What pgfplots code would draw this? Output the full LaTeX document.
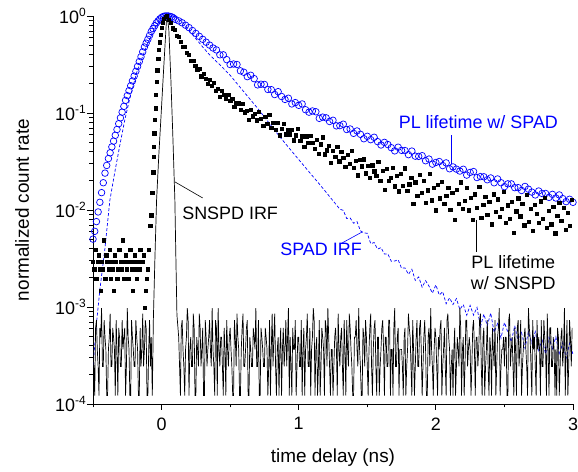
\documentclass[border=0pt]{standalone}
\usepackage{fontspec}
\setmainfont{Liberation Sans}
\usepackage{pgfplots}
\pgfplotsset{compat=1.18}
\newcommand{\tenexp}[1]{10\raisebox{0.42em}{\fontsize{12}{14}\selectfont #1}}
\begin{document}
\begin{tikzpicture}
\useasboundingbox (-93bp,-68bp) rectangle (485bp,404bp);
\begin{axis}[
  at={(0,0)}, anchor=south west,
  scale only axis, width=480bp, height=388bp,
  xmin=-0.5, xmax=3, ymode=log, ymin=1e-4, ymax=1,
  axis x line*=bottom, axis y line*=left,
  axis line style={line width=0.8bp},
  tick align=outside,
  major tick length=6bp, minor tick length=3.5bp,
  every tick/.style={line width=0.8bp, black},
  xtick={0,1,2,3}, minor xtick={-0.5,0.5,1.5,2.5},
  ytick={1e-4,1e-3,1e-2,1e-1,1},
  yticklabels={},
  minor ytick={2e-4,3e-4,4e-4,5e-4,6e-4,7e-4,8e-4,9e-4,2e-3,3e-3,4e-3,5e-3,6e-3,7e-3,8e-3,9e-3,2e-2,3e-2,4e-2,5e-2,6e-2,7e-2,8e-2,9e-2,0.2,0.3,0.4,0.5,0.6,0.7,0.8,0.9},
  ticklabel style={font=\fontsize{18}{20}\selectfont},
  xticklabel style={yshift=-4bp},
  /pgf/number format/assume math mode=true,
  clip=true,
]
% PL lifetime w/ SPAD (blue open circles)
\addplot[only marks, mark=o, mark size=3.3bp, color=blue, line width=0.7bp] coordinates {
(-0.5,0.00501)(-0.4875,0.00603)(-0.475,0.00759)(-0.4625,0.00955)(-0.45,0.0120)(-0.4375,0.0151)(-0.425,0.0191)(-0.4125,0.0240)(-0.4,0.0288)(-0.3875,0.0339)(-0.375,0.0389)(-0.3625,0.0447)(-0.35,0.0513)(-0.3375,0.0589)(-0.325,0.0676)(-0.3125,0.0776)(-0.3,0.0891)(-0.2875,0.102)(-0.275,0.117)(-0.2625,0.135)(-0.25,0.151)(-0.2375,0.170)(-0.225,0.191)(-0.2125,0.214)(-0.2,0.240)(-0.1875,0.269)(-0.175,0.302)(-0.1625,0.339)(-0.15,0.380)(-0.1375,0.427)(-0.125,0.479)(-0.1125,0.525)(-0.1,0.575)(-0.0875,0.631)(-0.075,0.692)(-0.0625,0.741)(-0.05,0.794)(-0.0375,0.851)(-0.025,0.891)(-0.0125,0.933)(0,0.966)(0.0125,0.989)(0.025,1.0)(0.0375,1.0)(0.05,1.0)(0.0625,0.989)(0.075,0.977)(0.0875,0.955)(0.1,0.923)
(0.125,0.891)(0.15,0.851)(0.175,0.804)(0.2,0.759)(0.225,0.708)(0.25,0.661)(0.275,0.617)(0.3,0.575)(0.325,0.537)(0.35,0.501)(0.375,0.468)(0.4,0.447)(0.425,0.398)(0.45,0.398)(0.475,0.355)(0.5,0.316)(0.525,0.320)(0.55,0.316)(0.575,0.272)(0.6,0.263)(0.625,0.237)(0.65,0.245)(0.675,0.226)(0.7,0.195)(0.725,0.198)(0.75,0.197)(0.775,0.175)(0.8,0.174)(0.825,0.155)(0.85,0.166)(0.875,0.148)(0.9,0.138)(0.925,0.142)(0.95,0.124)(0.975,0.128)(1.0,0.120)(1.025,0.124)(1.05,0.108)(1.075,0.102)(1.1,0.105)(1.125,0.103)(1.15,0.0881)(1.175,0.0907)(1.2,0.0891)(1.225,0.0818)(1.25,0.0841)(1.275,0.0737)(1.3,0.0741)(1.325,0.0767)(1.35,0.0676)(1.375,0.0684)(1.4,0.0617)(1.425,0.0653)(1.45,0.0603)(1.475,0.0543)(1.5,0.0575)(1.525,0.0531)(1.55,0.0562)(1.575,0.0507)(1.6,0.0468)(1.625,0.0498)(1.65,0.0473)(1.675,0.0439)(1.7,0.0407)(1.725,0.0444)(1.75,0.0412)(1.775,0.0410)(1.8,0.0372)(1.825,0.0405)(1.85,0.0359)(1.875,0.0357)(1.9,0.0363)(1.925,0.0322)(1.95,0.0335)(1.975,0.0297)(2.0,0.0309)(2.025,0.0316)(2.05,0.0287)(2.075,0.0306)(2.1,0.0266)(2.125,0.0278)(2.15,0.0264)(2.175,0.0252)(2.2,0.0263)(2.225,0.0229)(2.25,0.0244)(2.275,0.0249)(2.3,0.0216)(2.325,0.0221)(2.35,0.0220)(2.375,0.0205)(2.4,0.0214)(2.425,0.0191)(2.45,0.0209)(2.475,0.0191)(2.5,0.0174)(2.525,0.0186)(2.55,0.0186)(2.575,0.0170)(2.6,0.0170)(2.625,0.0159)(2.65,0.0175)(2.675,0.0164)(2.7,0.0153)(2.725,0.0143)(2.75,0.0157)(2.775,0.0148)(2.8,0.0148)(2.825,0.0135)(2.85,0.0145)(2.875,0.0133)(2.9,0.0143)(2.925,0.0131)(2.95,0.0122)(2.975,0.0129)(3.0,0.0120)
};
% SPAD IRF (blue dashed)
\addplot[color=blue, line width=0.7bp, dash pattern=on 3bp off 2bp, mark=none] coordinates {
(-0.5,2.5e-4)(-0.487,4.1e-4)(-0.472,7.4e-4)(-0.45,1.5e-3)(-0.414,3.9e-3)(-0.377,0.0126)(-0.341,0.0246)(-0.304,0.0468)(-0.268,0.0851)(-0.231,0.143)(-0.18,0.265)(-0.107,0.50)(-0.05,0.75)(0,0.955)(0.045,1.0)(0.1,0.977)(0.15,0.871)(0.2,0.708)(0.258,0.566)(0.3,0.479)(0.35,0.398)(0.426,0.313)(0.5,0.245)(0.57,0.186)(0.7,0.112)(0.863,0.0566)(1.0,0.0331)(1.155,0.0182)(1.23,0.0135)
(1.3,0.0102)(1.325,0.00991)(1.35,0.00817)(1.375,0.00828)(1.4,0.00731)(1.425,0.00759)(1.45,0.00611)(1.475,0.00581)(1.5,0.00575)(1.525,0.00449)(1.55,0.00462)(1.575,0.00395)(1.6,0.0041)(1.625,0.00351)(1.65,0.00353)(1.675,0.00296)(1.7,0.00298)(1.725,0.00307)(1.75,0.00251)(1.775,0.00253)(1.8,0.00217)(1.825,0.00245)(1.85,0.00188)(1.875,0.00204)(1.9,0.0016)(1.925,0.00187)(1.95,0.00164)(1.975,0.00139)(2.0,0.00169)(2.025,0.00133)(2.05,0.00144)(2.075,0.00108)(2.1,0.00124)(2.125,0.00106)(2.15,0.00122)(2.175,0.000944)(2.2,0.00106)(2.225,0.000822)(2.25,0.00104)(2.275,0.000824)(2.3,0.00099)(2.325,0.000625)(2.35,0.000845)(2.375,0.000641)(2.4,0.000867)(2.425,0.000548)(2.45,0.000675)(2.475,0.000479)(2.5,0.000692)(2.525,0.000551)(2.55,0.000439)(2.575,0.00064)(2.6,0.000443)(2.625,0.000544)(2.65,0.000376)(2.675,0.000556)(2.7,0.000422)(2.725,0.000556)(2.75,0.000358)(2.775,0.000472)(2.8,0.000327)(2.825,0.000485)(2.85,0.000372)(2.875,0.000493)(2.9,0.000321)(2.925,0.000427)(2.95,0.000297)(2.975,0.000423)(3.0,0.000324)
};
% PL lifetime w/ SNSPD (black squares)
\addplot[only marks, mark=square*, mark size=1.65bp, color=black] coordinates {
(-0.5,0.00294)(-0.492,0.00245)(-0.484,0.00392)(-0.476,0.00196)(-0.468,0.00294)(-0.46,0.00343)(-0.452,0.00245)(-0.444,0.00147)(-0.436,0.00294)(-0.428,0.00245)(-0.42,0.0049)(-0.412,0.00196)(-0.404,0.00343)(-0.396,0.00294)(-0.388,0.00245)(-0.38,0.00392)(-0.372,0.00196)(-0.364,0.00294)(-0.356,0.00245)(-0.348,0.00147)(-0.34,0.00343)(-0.332,0.00294)(-0.324,0.00196)(-0.316,0.00245)(-0.308,0.00392)(-0.3,0.00294)(-0.292,0.00245)(-0.284,0.0049)(-0.276,0.00196)(-0.268,0.00294)(-0.26,0.00343)(-0.252,0.00245)(-0.244,0.00196)(-0.236,0.00294)(-0.228,0.00392)(-0.22,0.00245)(-0.212,0.00147)(-0.204,0.00294)(-0.196,0.00343)(-0.188,0.00245)(-0.18,0.00196)(-0.172,0.00294)(-0.164,0.00245)(-0.156,0.00392)(-0.148,0.00294)(-0.14,0.00294)(-0.132,0.00343)(-0.124,0.00098)(-0.116,0.00147)(-0.108,0.00196)(-0.1,0.00245)(-0.092,0.00392)(-0.084,0.00686)(-0.076,0.00882)
(-0.069,0.0151)(-0.062,0.0246)(-0.059,0.0355)(-0.056,0.0447)(-0.054,0.0617)(-0.049,0.0851)(-0.044,0.112)(-0.042,0.155)(-0.036,0.209)(-0.032,0.277)(-0.025,0.36)(-0.02,0.447)(-0.012,0.537)(-0.007,0.637)(0.0,0.752)(0.007,0.847)(0.017,0.933)(0.028,0.98)(0.039,1.0)
(0.05,0.92)(0.065,0.849)(0.08,0.750)(0.095,0.718)(0.11,0.631)(0.125,0.611)(0.14,0.547)(0.155,0.486)(0.17,0.479)(0.185,0.419)(0.2,0.402)(0.215,0.346)(0.23,0.347)(0.245,0.309)(0.26,0.279)(0.275,0.288)(0.29,0.239)(0.305,0.254)(0.32,0.226)(0.335,0.200)(0.35,0.221)(0.365,0.191)(0.38,0.205)(0.395,0.169)(0.41,0.178)(0.425,0.148)(0.44,0.169)(0.455,0.154)(0.47,0.140)(0.485,0.155)(0.5,0.133)(0.515,0.140)(0.53,0.117)(0.545,0.126)(0.56,0.126)(0.575,0.108)(0.59,0.125)(0.605,0.102)(0.62,0.105)(0.635,0.0847)(0.65,0.109)(0.665,0.0925)(0.68,0.0989)(0.695,0.0841)(0.71,0.103)(0.725,0.0879)(0.74,0.0746)(0.755,0.0918)(0.77,0.078)(0.785,0.0959)(0.8,0.0711)(0.815,0.0798)(0.83,0.0678)(0.845,0.0796)(0.86,0.059)(0.875,0.0692)(0.89,0.0776)(0.905,0.0603)(0.92,0.0676)(0.935,0.0603)(0.95,0.0676)(0.965,0.0525)(0.98,0.059)(0.995,0.0693)(1.01,0.0514)(1.025,0.0578)(1.04,0.0449)(1.055,0.0578)(1.07,0.0493)(1.085,0.0579)(1.1,0.0493)(1.115,0.0425)(1.13,0.0533)(1.145,0.038)(1.16,0.0476)(1.175,0.0562)(1.19,0.0375)(1.205,0.0415)(1.22,0.0459)(1.235,0.0307)(1.25,0.0412)(1.265,0.0355)(1.28,0.0447)(1.295,0.0318)(1.31,0.040)(1.325,0.0344)(1.34,0.0279)(1.355,0.0373)(1.37,0.0302)(1.385,0.0406)(1.4,0.0272)(1.415,0.0321)(1.43,0.0229)(1.445,0.0328)(1.46,0.0282)(1.475,0.0335)(1.49,0.0239)(1.505,0.0284)(1.52,0.0216)(1.535,0.029)(1.55,0.0251)(1.565,0.0226)(1.58,0.0313)(1.595,0.0199)(1.61,0.0254)(1.625,0.0162)(1.64,0.0267)(1.655,0.0202)(1.67,0.0217)(1.685,0.0275)(1.7,0.0176)(1.715,0.0224)(1.73,0.0156)(1.745,0.0235)(1.76,0.0178)(1.775,0.027)(1.79,0.0158)(1.805,0.0185)(1.82,0.0215)(1.835,0.0117)(1.85,0.0194)(1.865,0.014)(1.88,0.0232)(1.895,0.0151)(1.91,0.0202)(1.925,0.0119)(1.94,0.016)(1.955,0.0238)(1.97,0.0126)(1.985,0.0169)(2.0,0.00993)(2.015,0.0182)(2.03,0.0132)(2.045,0.0197)(2.06,0.0116)(2.075,0.0141)(2.09,0.0171)(2.105,0.01)(2.12,0.015)(2.135,0.00794)(2.15,0.0162)(2.165,0.0117)(2.18,0.0194)(2.195,0.0103)(2.21,0.0125)(2.225,0.0169)(2.24,0.00993)(2.255,0.0134)(2.27,0.00789)(2.285,0.0146)(2.3,0.0105)(2.315,0.0175)(2.33,0.00838)(2.345,0.0113)(2.36,0.0137)(2.375,0.00897)(2.39,0.0121)(2.405,0.00714)(2.42,0.0146)(2.435,0.00957)(2.45,0.0129)(2.465,0.00849)(2.48,0.0104)(2.495,0.0155)(2.51,0.00745)(2.525,0.0112)(2.54,0.00813)(2.555,0.0122)(2.57,0.00585)(2.585,0.00975)(2.6,0.0132)(2.615,0.00865)(2.63,0.0117)(2.645,0.00695)(2.66,0.0143)(2.675,0.00762)(2.69,0.0103)(2.705,0.00612)(2.72,0.0113)(2.735,0.00914)(2.75,0.0074)(2.765,0.0123)(2.78,0.00809)(2.795,0.0135)(2.81,0.00652)(2.825,0.00982)(2.84,0.00716)(2.855,0.0108)(2.87,0.00577)(2.885,0.00869)(2.9,0.0118)(2.915,0.00778)(2.93,0.0106)(2.945,0.00627)(2.96,0.00944)(2.975,0.00689)(2.99,0.0128)
};
% SNSPD IRF (black solid line)
\addplot[color=black, line width=0.7bp, mark=none] coordinates {
(-0.5,3.66e-4)(-0.49375,2.44e-4)(-0.4875,1.22e-4)(-0.48125,6.1e-4)(-0.475,7.32e-4)(-0.46875,3.66e-4)(-0.4625,2.44e-4)(-0.45625,1.22e-4)(-0.45,6.1e-4)(-0.44375,4.88e-4)(-0.4375,9.76e-4)(-0.43125,2.44e-4)(-0.425,2.44e-4)(-0.41875,7.32e-4)(-0.4125,4.88e-4)(-0.40625,3.66e-4)(-0.4,1.22e-4)(-0.39375,1.22e-4)(-0.3875,3.66e-4)(-0.38125,4.88e-4)(-0.375,8.54e-4)(-0.36875,2.44e-4)(-0.3625,2.44e-4)(-0.35625,6.1e-4)(-0.35,4.88e-4)(-0.34375,3.66e-4)(-0.3375,1.22e-4)(-0.33125,7.32e-4)(-0.325,3.66e-4)(-0.31875,1.22e-4)(-0.3125,6.1e-4)(-0.30625,4.88e-4)(-0.3,2.44e-4)(-0.29375,2.44e-4)(-0.2875,7.32e-4)(-0.28125,3.66e-4)(-0.275,4.88e-4)(-0.26875,6.1e-4)(-0.2625,1.22e-4)(-0.25625,2.44e-4)(-0.25,9.76e-4)(-0.24375,4.88e-4)(-0.2375,3.66e-4)(-0.23125,1.22e-4)(-0.225,1.22e-4)(-0.21875,7.32e-4)(-0.2125,4.88e-4)(-0.20625,3.66e-4)(-0.2,2.44e-4)(-0.19375,2.44e-4)(-0.1875,7.32e-4)(-0.18125,4.88e-4)(-0.175,3.66e-4)(-0.16875,1.22e-4)(-0.1625,1.22e-4)(-0.15625,6.1e-4)(-0.15,2.44e-4)(-0.14375,3.66e-4)(-0.1375,8.54e-4)(-0.13125,2.44e-4)(-0.125,3.66e-4)(-0.11875,7.32e-4)(-0.1125,6.1e-4)(-0.10625,1.22e-4)(-0.1,1.22e-4)(-0.09375,3.66e-4)(-0.0875,7.32e-4)(-0.08125,2.44e-4)(-0.075,4.88e-4)(-0.0675,1.22e-4)
(-0.06,7.32e-4)(-0.049,3.0e-3)(-0.0365,0.0126)(-0.02,0.037)(-0.0015,0.107)(0.017,0.316)(0.035,0.87)(0.042,1.0)(0.053,0.72)(0.068,0.219)(0.082,0.059)(0.097,0.0126)(0.104,3.4e-3)(0.112,8.3e-4)
(0.125,4.88e-4)(0.13125,2.44e-4)(0.1375,1.22e-4)(0.14375,6.1e-4)(0.15,7.32e-4)(0.15625,3.66e-4)(0.1625,2.44e-4)(0.16875,1.22e-4)(0.175,3.66e-4)(0.18125,4.88e-4)(0.1875,9.76e-4)(0.19375,7.32e-4)(0.2,1.22e-4)(0.20625,3.66e-4)(0.2125,4.88e-4)(0.21875,2.44e-4)(0.225,2.44e-4)(0.23125,8.54e-4)(0.2375,6.1e-4)(0.24375,1.22e-4)
(0.25,1.22e-4)(0.25625,4.88e-4)(0.2625,3.66e-4)(0.26875,2.44e-4)(0.275,8.54e-4)(0.28125,6.1e-4)(0.2875,2.44e-4)(0.29375,3.66e-4)(0.3,6.1e-4)(0.30625,1.22e-4)(0.3125,1.22e-4)(0.31875,7.32e-4)(0.325,4.88e-4)(0.33125,2.44e-4)(0.3375,3.66e-4)(0.34375,4.88e-4)(0.35,7.32e-4)(0.35625,3.66e-4)(0.3625,2.44e-4)(0.36875,9.76e-4)
(0.375,3.66e-4)(0.38125,2.44e-4)(0.3875,1.22e-4)(0.39375,7.32e-4)(0.4,6.1e-4)(0.40625,1.22e-4)(0.4125,9.76e-4)(0.41875,3.66e-4)(0.425,2.44e-4)(0.43125,4.88e-4)(0.4375,4.88e-4)(0.44375,2.44e-4)(0.45,1.22e-4)(0.45625,6.1e-4)(0.4625,3.66e-4)(0.46875,1.22e-4)(0.475,7.32e-4)(0.48125,3.66e-4)(0.4875,2.44e-4)(0.49375,4.88e-4)
(0.5,6.1e-4)(0.50625,3.66e-4)(0.5125,2.44e-4)(0.51875,1.22e-4)(0.525,1.22e-4)(0.53125,7.32e-4)(0.5375,4.88e-4)(0.54375,2.44e-4)(0.55,8.54e-4)(0.55625,4.88e-4)(0.5625,3.66e-4)(0.56875,1.22e-4)(0.575,1.22e-4)(0.58125,3.66e-4)(0.5875,6.1e-4)(0.59375,8.54e-4)(0.6,2.44e-4)(0.60625,2.44e-4)(0.6125,3.66e-4)(0.61875,6.1e-4)
(0.625,7.32e-4)(0.63125,1.22e-4)(0.6375,1.22e-4)(0.64375,4.88e-4)(0.65,3.66e-4)(0.65625,2.44e-4)(0.6625,2.44e-4)(0.66875,6.1e-4)(0.675,4.88e-4)(0.68125,3.66e-4)(0.6875,9.76e-4)(0.69375,2.44e-4)(0.7,2.44e-4)(0.70625,7.32e-4)(0.7125,1.22e-4)(0.71875,1.22e-4)(0.725,6.1e-4)(0.73125,4.88e-4)(0.7375,3.66e-4)(0.74375,2.44e-4)
(0.75,2.44e-4)(0.75625,6.1e-4)(0.7625,4.88e-4)(0.76875,3.66e-4)(0.775,1.22e-4)(0.78125,2.44e-4)(0.7875,7.32e-4)(0.79375,1.22e-4)(0.8,3.66e-4)(0.80625,8.54e-4)(0.8125,2.44e-4)(0.81875,4.88e-4)(0.825,8.54e-4)(0.83125,2.44e-4)(0.8375,1.22e-4)(0.84375,3.66e-4)(0.85,4.88e-4)(0.85625,1.22e-4)(0.8625,3.66e-4)(0.86875,6.1e-4)
(0.875,1.22e-4)(0.88125,3.66e-4)(0.8875,6.1e-4)(0.89375,2.44e-4)(0.9,3.66e-4)(0.90625,7.32e-4)(0.9125,2.44e-4)(0.91875,4.88e-4)(0.925,9.76e-4)(0.93125,1.22e-4)(0.9375,4.88e-4)(0.94375,2.44e-4)(0.95,1.22e-4)(0.95625,6.1e-4)(0.9625,3.66e-4)(0.96875,3.66e-4)(0.975,7.32e-4)(0.98125,1.22e-4)(0.9875,2.44e-4)(0.99375,4.88e-4)
(1.0,4.88e-4)(1.00625,2.44e-4)(1.0125,2.44e-4)(1.01875,7.32e-4)(1.025,1.22e-4)(1.03125,3.66e-4)(1.0375,6.1e-4)(1.04375,1.22e-4)(1.05,3.66e-4)(1.05625,4.88e-4)(1.0625,8.54e-4)(1.06875,2.44e-4)(1.075,2.44e-4)(1.08125,6.1e-4)(1.0875,1.22e-4)(1.09375,3.66e-4)(1.1,4.88e-4)(1.10625,9.76e-4)(1.1125,7.32e-4)(1.11875,1.22e-4)
(1.125,3.66e-4)(1.13125,4.88e-4)(1.1375,1.22e-4)(1.14375,2.44e-4)(1.15,7.32e-4)(1.15625,1.22e-4)(1.1625,2.44e-4)(1.16875,6.1e-4)(1.175,4.88e-4)(1.18125,3.66e-4)(1.1875,1.22e-4)(1.19375,7.32e-4)(1.2,6.1e-4)(1.20625,2.44e-4)(1.2125,9.76e-4)(1.21875,4.88e-4)(1.225,2.44e-4)(1.23125,1.22e-4)(1.2375,3.66e-4)(1.24375,3.66e-4)
(1.25,1.22e-4)(1.25625,2.44e-4)(1.2625,4.88e-4)(1.26875,6.1e-4)(1.275,3.66e-4)(1.28125,1.22e-4)(1.2875,8.54e-4)(1.29375,3.66e-4)(1.3,2.44e-4)(1.30625,4.88e-4)(1.3125,6.1e-4)(1.31875,2.44e-4)(1.325,1.22e-4)(1.33125,7.32e-4)(1.3375,3.66e-4)(1.34375,1.22e-4)(1.35,7.32e-4)(1.35625,3.66e-4)(1.3625,2.44e-4)(1.36875,8.54e-4)
(1.375,6.1e-4)(1.38125,3.66e-4)(1.3875,2.44e-4)(1.39375,1.22e-4)(1.4,1.22e-4)(1.40625,4.88e-4)(1.4125,4.88e-4)(1.41875,7.32e-4)(1.425,3.66e-4)(1.43125,2.44e-4)(1.4375,9.76e-4)(1.44375,3.66e-4)(1.45,2.44e-4)(1.45625,1.22e-4)(1.4625,1.22e-4)(1.46875,6.1e-4)(1.475,4.88e-4)(1.48125,2.44e-4)(1.4875,7.32e-4)(1.49375,4.88e-4)
(1.5,2.44e-4)(1.50625,1.22e-4)(1.5125,3.66e-4)(1.51875,6.1e-4)(1.525,8.54e-4)(1.53125,2.44e-4)(1.5375,1.22e-4)(1.54375,3.66e-4)(1.55,6.1e-4)(1.55625,7.32e-4)(1.5625,2.44e-4)(1.56875,1.22e-4)(1.575,4.88e-4)(1.58125,4.88e-4)(1.5875,1.22e-4)(1.59375,2.44e-4)(1.6,3.66e-4)(1.60625,6.1e-4)(1.6125,7.32e-4)(1.61875,3.66e-4)
(1.625,1.22e-4)(1.63125,4.88e-4)(1.6375,4.88e-4)(1.64375,2.44e-4)(1.65,2.44e-4)(1.65625,7.32e-4)(1.6625,7.32e-4)(1.66875,1.22e-4)(1.675,3.66e-4)(1.68125,3.66e-4)(1.6875,1.22e-4)(1.69375,6.1e-4)(1.7,9.76e-4)(1.70625,2.44e-4)(1.7125,2.44e-4)(1.71875,4.88e-4)(1.725,6.1e-4)(1.73125,1.22e-4)(1.7375,3.66e-4)(1.74375,3.66e-4)
(1.75,3.66e-4)(1.75625,2.44e-4)(1.7625,1.22e-4)(1.76875,4.88e-4)(1.775,6.1e-4)(1.78125,1.22e-4)(1.7875,2.44e-4)(1.79375,3.66e-4)(1.8,8.54e-4)(1.80625,6.1e-4)(1.8125,4.88e-4)(1.81875,2.44e-4)(1.825,1.22e-4)(1.83125,7.32e-4)(1.8375,3.66e-4)(1.84375,1.22e-4)(1.85,2.44e-4)(1.85625,4.88e-4)(1.8625,7.32e-4)(1.86875,2.44e-4)
(1.875,2.44e-4)(1.88125,6.1e-4)(1.8875,7.32e-4)(1.89375,3.66e-4)(1.9,1.22e-4)(1.90625,2.44e-4)(1.9125,4.88e-4)(1.91875,7.32e-4)(1.925,3.66e-4)(1.93125,1.22e-4)(1.9375,1.22e-4)(1.94375,4.88e-4)(1.95,6.1e-4)(1.95625,2.44e-4)(1.9625,9.76e-4)(1.96875,3.66e-4)(1.975,2.44e-4)(1.98125,1.22e-4)(1.9875,3.66e-4)(1.99375,6.1e-4)
(2.0,4.88e-4)(2.00625,2.44e-4)(2.0125,1.22e-4)(2.01875,4.88e-4)(2.025,3.66e-4)(2.03125,6.1e-4)(2.0375,7.32e-4)(2.04375,1.22e-4)(2.05,2.44e-4)(2.05625,3.66e-4)(2.0625,6.1e-4)(2.06875,2.44e-4)(2.075,1.22e-4)(2.08125,7.32e-4)(2.0875,8.54e-4)(2.09375,4.88e-4)(2.1,3.66e-4)(2.10625,1.22e-4)(2.1125,2.44e-4)(2.11875,3.66e-4)
(2.125,1.22e-4)(2.13125,3.66e-4)(2.1375,6.1e-4)(2.14375,1.22e-4)(2.15,2.44e-4)(2.15625,4.88e-4)(2.1625,3.66e-4)(2.16875,2.44e-4)(2.175,9.76e-4)(2.18125,6.1e-4)(2.1875,1.22e-4)(2.19375,3.66e-4)(2.2,4.88e-4)(2.20625,1.22e-4)(2.2125,2.44e-4)(2.21875,7.32e-4)(2.225,7.32e-4)(2.23125,2.44e-4)(2.2375,3.66e-4)(2.24375,4.88e-4)
(2.25,3.66e-4)(2.25625,1.22e-4)(2.2625,2.44e-4)(2.26875,6.1e-4)(2.275,7.32e-4)(2.28125,3.66e-4)(2.2875,1.22e-4)(2.29375,4.88e-4)(2.3,4.88e-4)(2.30625,2.44e-4)(2.3125,3.66e-4)(2.31875,7.32e-4)(2.325,8.54e-4)(2.33125,2.44e-4)(2.3375,1.22e-4)(2.34375,4.88e-4)(2.35,6.1e-4)(2.35625,1.22e-4)(2.3625,2.44e-4)(2.36875,3.66e-4)
(2.375,7.32e-4)(2.38125,2.44e-4)(2.3875,1.22e-4)(2.39375,4.88e-4)(2.4,3.66e-4)(2.40625,1.22e-4)(2.4125,6.1e-4)(2.41875,3.66e-4)(2.425,2.44e-4)(2.43125,7.32e-4)(2.4375,1.22e-4)(2.44375,2.44e-4)(2.45,4.88e-4)(2.45625,6.1e-4)(2.4625,9.76e-4)(2.46875,1.22e-4)(2.475,2.44e-4)(2.48125,3.66e-4)(2.4875,3.66e-4)(2.49375,4.88e-4)
(2.5,2.44e-4)(2.50625,4.88e-4)(2.5125,4.88e-4)(2.51875,1.22e-4)(2.525,1.22e-4)(2.53125,7.32e-4)(2.5375,8.54e-4)(2.54375,2.44e-4)(2.55,3.66e-4)(2.55625,4.88e-4)(2.5625,2.44e-4)(2.56875,1.22e-4)(2.575,6.1e-4)(2.58125,3.66e-4)(2.5875,1.22e-4)(2.59375,6.1e-4)(2.6,7.32e-4)(2.60625,2.44e-4)(2.6125,3.66e-4)(2.61875,7.32e-4)
(2.625,1.22e-4)(2.63125,2.44e-4)(2.6375,3.66e-4)(2.64375,4.88e-4)(2.65,6.1e-4)(2.65625,3.66e-4)(2.6625,2.44e-4)(2.66875,1.22e-4)(2.675,9.76e-4)(2.68125,6.1e-4)(2.6875,4.88e-4)(2.69375,2.44e-4)(2.7,1.22e-4)(2.70625,7.32e-4)(2.7125,3.66e-4)(2.71875,4.88e-4)(2.725,2.44e-4)(2.73125,1.22e-4)(2.7375,7.32e-4)(2.74375,3.66e-4)
(2.75,4.88e-4)(2.75625,3.66e-4)(2.7625,1.22e-4)(2.76875,7.32e-4)(2.775,2.44e-4)(2.78125,2.44e-4)(2.7875,7.32e-4)(2.79375,4.88e-4)(2.8,3.66e-4)(2.80625,1.22e-4)(2.8125,8.54e-4)(2.81875,3.66e-4)(2.825,1.22e-4)(2.83125,6.1e-4)(2.8375,6.1e-4)(2.84375,2.44e-4)(2.85,2.44e-4)(2.85625,4.88e-4)(2.8625,3.66e-4)(2.86875,1.22e-4)
(2.875,3.66e-4)(2.88125,1.22e-4)(2.8875,6.1e-4)(2.89375,4.88e-4)(2.9,1.22e-4)(2.90625,2.44e-4)(2.9125,4.88e-4)(2.91875,6.1e-4)(2.925,2.44e-4)(2.93125,3.66e-4)(2.9375,9.76e-4)(2.94375,1.22e-4)(2.95,3.66e-4)(2.95625,7.32e-4)(2.9625,1.22e-4)(2.96875,2.44e-4)(2.975,7.32e-4)(2.98125,4.88e-4)(2.9875,2.44e-4)(2.99375,6.1e-4)
};
% annotations
\draw[black, line width=0.6bp] (axis cs:0.097,0.0195) -- (axis cs:0.30,0.0133);
\node[font=\fontsize{18}{21}\selectfont, black] at (axis cs:0.50,0.0093) {SNSPD IRF};
\draw[blue, line width=0.6bp] (axis cs:1.316,0.00457) -- (axis cs:1.462,0.00593);
\node[font=\fontsize{18}{21}\selectfont, blue] at (axis cs:1.163,0.00397) {SPAD IRF};
\draw[blue, line width=0.6bp] (axis cs:2.112,0.0593) -- (axis cs:2.112,0.0296);
\node[font=\fontsize{18}{21}\selectfont, blue] at (axis cs:2.31,0.0807) {PL lifetime w/ SPAD};
\draw[black, line width=0.6bp] (axis cs:2.294,0.0079) -- (axis cs:2.294,0.00369);
\node[font=\fontsize{18}{21}\selectfont, black, align=center, inner sep=0pt] at (axis cs:2.565,0.00224) {PL lifetime\\w/ SNSPD};
\end{axis}
% y tick labels (decades)
\foreach \yy/\ee in {0/-4,97/-3,194/-2,291/-1,388/0}{
  \node[font=\fontsize{18}{20}\selectfont, anchor=east, inner sep=0pt] at (-7bp,\yy bp) {\tenexp{\ee}};
}
\node[font=\fontsize{19}{22}\selectfont] at (240bp,-54bp) {time delay (ns)};
\node[font=\fontsize{19}{22}\selectfont, rotate=90] at (-71bp,194bp) {normalized count rate};
\end{tikzpicture}
\end{document}
